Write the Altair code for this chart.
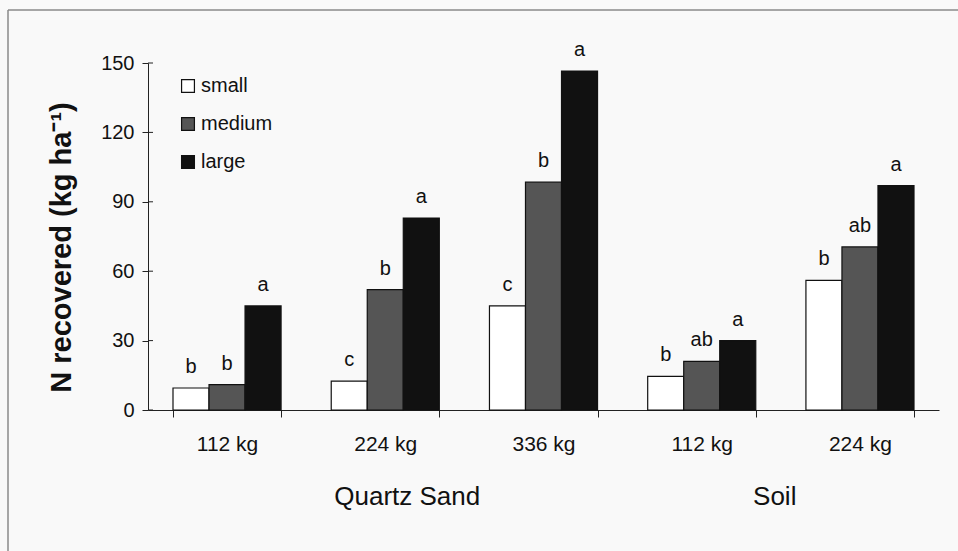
import altair as alt
import pandas as pd

# Recovered N by fertilizer rate, medium and particle size
groups = ["Quartz Sand", "Quartz Sand", "Quartz Sand", "Soil", "Soil"]
rates = ["112 kg", "224 kg", "336 kg", "112 kg", "224 kg"]
sizes = ["small", "medium", "large"]
small = [9.5, 12.5, 45.0, 14.5, 56.0]
medium = [11.0, 52.0, 98.5, 21.0, 70.5]
large = [45.0, 83.0, 146.5, 30.0, 97.0]
letters_small = ["b", "c", "c", "b", "b"]
letters_medium = ["b", "b", "b", "ab", "ab"]
letters_large = ["a", "a", "a", "a", "a"]
y_ticks = [0, 30, 60, 90, 120, 150]

keys = [f"{g}|{r}" for g, r in zip(groups, rates)]
rows = []
for i, k in enumerate(keys):
    for s, vals, lets in zip(sizes, [small, medium, large],
                             [letters_small, letters_medium, letters_large]):
        rows.append({"cond": k, "size": s, "value": vals[i], "letter": lets[i]})
df = pd.DataFrame(rows)

FONT = "Liberation Sans"

x_enc = alt.X(
    "cond:N", sort=keys, title=None,
    scale=alt.Scale(paddingInner=0.317, paddingOuter=0.158),
    axis=alt.Axis(
        labelExpr="split(datum.label, '|')[1]", labelAngle=0,
        labelFontSize=21, labelFont=FONT, labelColor="#111",
        labelPadding=16, tickBand="extent", tickSize=7,
        tickColor="#222", domainColor="#222", grid=False,
    ),
)
xoff = alt.XOffset("size:N", sort=sizes, scale=alt.Scale(paddingInner=0, paddingOuter=0))
y_scale = alt.Scale(domain=[0, 150], nice=False)

bars = alt.Chart(df).mark_bar(stroke="#111", strokeWidth=1.2).encode(
    x=x_enc,
    xOffset=xoff,
    y=alt.Y(
        "value:Q", scale=y_scale,
        axis=alt.Axis(
            values=y_ticks, labelFontSize=20, labelFont=FONT, labelColor="#111",
            labelPadding=8, tickSize=6, tickColor="#222", domainColor="#222",
            grid=False, title="N recovered (kg ha⁻¹)", titleFont=FONT,
            titleFontSize=29, titleFontWeight="bold", titleColor="#111",
            titleAngle=-90, titleX=-87, titleY=184, titleAlign="center",
            titleBaseline="middle",
        ),
    ),
    fill=alt.Fill(
        "size:N", sort=sizes,
        scale=alt.Scale(domain=sizes, range=["#ffffff", "#555555", "#111111"]),
        legend=alt.Legend(
            title=None, orient="none", legendX=30, legendY=13, padding=0,
            symbolType="square", symbolSize=165, symbolStrokeColor="#111",
            symbolStrokeWidth=1.2, labelFontSize=20, labelFont=FONT,
            labelColor="#111", labelOffset=3, rowPadding=18,
        ),
    ),
)

letters = alt.Chart(df).mark_text(
    font=FONT, fontSize=20, color="#111", baseline="middle", dy=-21
).encode(
    x=alt.X("cond:N", sort=keys),
    xOffset=xoff,
    y=alt.Y("value:Q", scale=y_scale),
    text="letter:N",
)

# inner halves of the y tick marks (ticks cross the axis line)
tick_df = pd.DataFrame({"t": y_ticks})
inner_ticks = alt.Chart(tick_df).mark_rule(color="#222", strokeWidth=1).encode(
    x=alt.value(0), x2=alt.value(5), y=alt.Y("t:Q", scale=y_scale),
)

# medium group names below the rate labels
grp_df = pd.DataFrame({"cond": [keys[1], keys[3]], "name": ["Quartz Sand", "Soil"]})
grp_qs = alt.Chart(grp_df.iloc[[0]]).mark_text(
    font=FONT, fontSize=26, color="#111", baseline="middle", dx=22
).encode(x=alt.X("cond:N", sort=keys), y=alt.value(434), text="name:N")
grp_soil = alt.Chart(grp_df.iloc[[1]]).mark_text(
    font=FONT, fontSize=26, color="#111", baseline="middle", dx=73
).encode(x=alt.X("cond:N", sort=keys), y=alt.value(434), text="name:N")

# figure frame (top and left edges)
frame_top = alt.Chart(tick_df.iloc[[0]]).mark_rule(color="#8a8a8a", strokeWidth=1.5).encode(
    x=alt.value(-140), x2=alt.value(812), y=alt.value(-53)
)
frame_left = alt.Chart(tick_df.iloc[[0]]).mark_rule(color="#8a8a8a", strokeWidth=1.5).encode(
    x=alt.value(-140), y=alt.value(-53), y2=alt.value(490)
)

chart = alt.layer(
    frame_top, frame_left, bars, inner_ticks, letters, grp_qs, grp_soil
).properties(
    width=791, height=347,
    autosize=alt.AutoSizeParams(type="none"),
    padding={"left": 148, "top": 63, "right": 19, "bottom": 141},
    background="#f9f9f9",
).configure_view(stroke=None)

chart.save("out.html", embed_options={"renderer": "svg", "actions": False})
